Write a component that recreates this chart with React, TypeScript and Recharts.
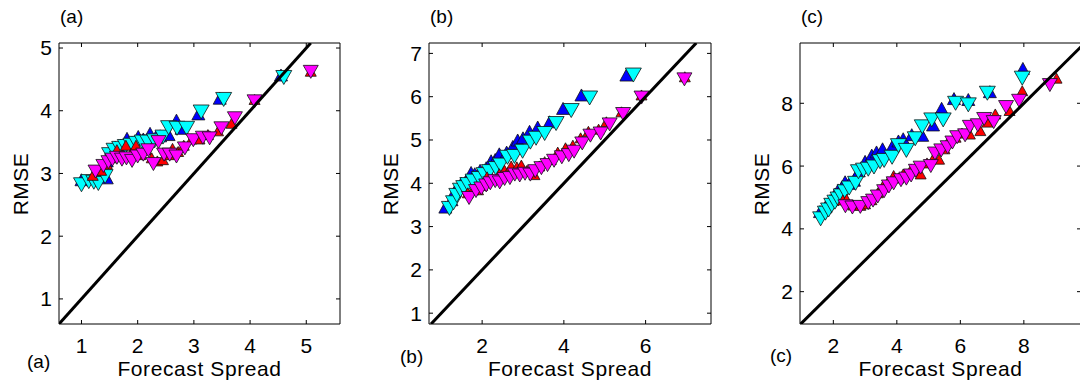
import { ScatterChart, Scatter, XAxis, YAxis, ReferenceLine } from "recharts";

// RMSE vs forecast spread, three experiments (a), (b), (c)
// each list is [spread, rmse]

const aBlue = [
  [1.0, 2.9], [1.35, 2.95], [1.45, 2.93], [1.45, 3.2], [1.53, 3.39], [1.6, 3.42], [1.7, 3.45],
  [1.81, 3.56], [1.9, 3.5], [2.01, 3.59], [2.1, 3.55], [2.22, 3.64], [2.32, 3.58], [2.4, 3.6],
  [2.55, 3.62], [2.69, 3.85], [2.78, 3.72], [3.08, 3.95], [3.46, 4.2], [4.55, 4.57],
];
const aCyan = [
  [1.0, 2.82], [1.13, 2.87], [1.22, 2.86], [1.3, 2.84], [1.42, 2.95], [1.5, 3.3], [1.58, 3.37],
  [1.68, 3.4], [1.78, 3.43], [1.88, 3.45], [1.98, 3.48], [2.08, 3.5], [2.18, 3.5], [2.3, 3.52],
  [2.45, 3.58], [2.55, 3.73], [2.7, 3.72], [2.87, 3.72], [3.13, 3.98], [3.53, 4.18], [4.6, 4.53],
];
const aRed = [
  [1.2, 2.97], [1.35, 3.05], [1.45, 3.15], [1.55, 3.25], [1.63, 3.38], [1.72, 3.3], [1.79, 3.45],
  [1.88, 3.32], [1.97, 3.45], [2.05, 3.3], [2.15, 3.38], [2.25, 3.25], [2.35, 3.2], [2.45, 3.22],
  [2.55, 3.3], [2.62, 3.4], [2.72, 3.35], [2.82, 3.45], [2.96, 3.55], [3.1, 3.55], [3.25, 3.62],
  [3.43, 3.68], [3.67, 3.8], [4.08, 4.18], [5.08, 4.63],
];
const aMagenta = [
  [1.25, 3.03], [1.39, 3.12], [1.48, 3.18], [1.55, 3.22], [1.63, 3.25], [1.72, 3.22], [1.8, 3.24],
  [1.9, 3.2], [2.0, 3.27], [2.1, 3.3], [2.19, 3.37], [2.28, 3.15], [2.37, 3.5], [2.47, 3.3],
  [2.57, 3.3], [2.69, 3.27], [2.84, 3.4], [2.99, 3.53], [3.16, 3.57], [3.28, 3.56], [3.49, 3.72],
  [3.73, 3.88], [4.08, 4.15], [5.08, 4.62],
];

const bBlue = [
  [1.1, 3.45], [1.25, 3.62], [1.32, 3.8], [1.42, 3.9], [1.49, 4.0], [1.6, 4.05], [1.73, 4.25],
  [1.82, 4.22], [1.95, 4.3], [2.1, 4.36], [2.22, 4.52], [2.32, 4.55], [2.42, 4.68], [2.6, 4.72],
  [2.75, 4.85], [2.87, 5.0], [3.0, 5.05], [3.16, 5.2], [3.36, 5.3], [3.65, 5.42], [3.98, 5.73],
  [4.43, 6.04], [5.53, 6.5],
];
const bCyan = [
  [1.2, 3.42], [1.3, 3.55], [1.38, 3.72], [1.47, 3.84], [1.55, 3.9], [1.65, 3.97], [1.78, 4.05],
  [1.93, 4.11], [2.05, 4.2], [2.18, 4.27], [2.34, 4.34], [2.45, 4.42], [2.62, 4.6], [2.79, 4.62],
  [2.99, 4.74], [3.18, 4.95], [3.32, 5.04], [3.53, 5.15], [3.81, 5.38], [4.18, 5.68], [4.63, 5.97],
  [5.7, 6.5],
];
const bRed = [
  [1.65, 3.78], [1.78, 3.85], [1.9, 3.85], [2.0, 3.95], [2.12, 4.15], [2.25, 4.1], [2.42, 4.22],
  [2.55, 4.3], [2.71, 4.4], [2.85, 4.38], [2.96, 4.42], [3.1, 4.3], [3.28, 4.2], [3.4, 4.4],
  [3.53, 4.5], [3.68, 4.55], [3.85, 4.72], [4.04, 4.82], [4.22, 4.88], [4.41, 5.05], [4.6, 5.2],
  [4.85, 5.25], [5.04, 5.42], [5.41, 5.65], [5.9, 6.04], [6.96, 6.46],
];
const bMagenta = [
  [1.68, 3.66], [1.85, 3.82], [1.98, 3.88], [2.1, 3.95], [2.2, 4.0], [2.32, 4.05], [2.43, 4.02],
  [2.55, 4.1], [2.68, 4.12], [2.8, 4.2], [2.92, 4.18], [3.05, 4.22], [3.18, 4.2], [3.3, 4.28],
  [3.45, 4.35], [3.6, 4.42], [3.76, 4.52], [3.95, 4.6], [4.12, 4.65], [4.25, 4.73], [4.45, 4.92],
  [4.65, 5.1], [4.9, 5.15], [5.12, 5.36], [5.45, 5.6], [5.9, 5.98], [6.95, 6.4],
];

const cBlue = [
  [1.58, 4.55], [1.75, 4.7], [1.9, 4.9], [2.05, 5.1], [2.15, 5.24], [2.25, 5.3], [2.37, 5.5],
  [2.5, 5.45], [2.65, 5.55], [2.8, 5.85], [3.0, 6.15], [3.21, 6.35], [3.36, 6.45], [3.55, 6.55],
  [3.85, 6.62], [4.05, 6.8], [4.2, 6.87], [4.47, 7.0], [4.8, 6.98], [5.14, 7.31], [5.41, 7.84],
  [5.8, 8.15], [6.25, 8.12], [6.93, 8.37], [7.97, 9.11],
];
const cCyan = [
  [1.6, 4.32], [1.75, 4.5], [1.85, 4.6], [1.95, 4.75], [2.05, 4.85], [2.15, 4.95], [2.25, 5.05],
  [2.37, 5.18], [2.5, 5.3], [2.7, 5.45], [2.79, 5.82], [2.95, 5.87], [3.1, 5.9], [3.28, 5.97],
  [3.47, 6.14], [3.6, 6.18], [3.85, 6.28], [4.05, 6.65], [4.3, 6.5], [4.58, 6.87], [4.8, 7.25],
  [5.1, 7.47], [5.46, 7.47], [5.85, 8.0], [6.25, 7.95], [6.85, 8.32], [7.95, 8.8],
];
const cRed = [
  [2.3, 4.92], [2.42, 4.94], [2.63, 4.76], [2.85, 4.75], [3.0, 4.8], [3.2, 4.93], [3.4, 5.15],
  [3.55, 5.35], [3.72, 5.5], [3.9, 5.7], [4.05, 5.62], [4.2, 5.75], [4.45, 5.9], [4.6, 5.85],
  [4.75, 5.75], [4.95, 6.1], [5.15, 6.25], [5.33, 6.22], [5.5, 6.55], [5.6, 6.76], [5.85, 6.92],
  [6.05, 7.05], [6.3, 7.02], [6.63, 7.13], [6.85, 7.4], [7.1, 7.66], [7.55, 7.77], [7.95, 8.4],
  [9.03, 8.8],
];
const cMagenta = [
  [2.38, 4.72], [2.6, 4.68], [2.85, 4.7], [3.1, 4.82], [3.25, 4.9], [3.4, 5.03], [3.6, 5.2],
  [3.75, 5.35], [3.9, 5.45], [4.13, 5.55], [4.3, 5.6], [4.45, 5.7], [4.6, 5.85], [4.75, 5.95],
  [5.07, 6.0], [5.2, 6.4], [5.4, 6.5], [5.6, 6.6], [5.75, 6.75], [5.9, 6.92], [6.15, 6.98],
  [6.3, 7.25], [6.55, 7.3], [6.75, 7.5], [7.05, 7.4], [7.44, 7.88], [7.85, 8.08], [8.82, 8.58],
];

const aXTicks = [1, 2, 3, 4, 5];
const aYTicks = [1, 2, 3, 4, 5];
const bXTicks = [2, 4, 6];
const bYTicks = [1, 2, 3, 4, 5, 6, 7];
const cXTicks = [2, 4, 6, 8];
const cYTicks = [2, 4, 6, 8];

const FONT = '"Liberation Sans", Arial, Helvetica, sans-serif';
const toPts = (arr: number[][]) => arr.map(([x, y]) => ({ x, y }));

type PanelCfg = {
  tag: string;
  chartLeft: number;
  plotLeft: number;
  plotW: number;
  xDomain: [number, number];
  yDomain: [number, number];
  xTicks: number[];
  yTicks: number[];
  blue: number[][];
  cyan: number[][];
  red: number[][];
  magenta: number[][];
};

const panels: PanelCfg[] = [
  { tag: "a", chartLeft: 0, plotLeft: 59, plotW: 281, xDomain: [0.6, 5.6], yDomain: [0.6, 5.08],
    xTicks: aXTicks, yTicks: aYTicks, blue: aBlue, cyan: aCyan, red: aRed, magenta: aMagenta },
  { tag: "b", chartLeft: 360, plotLeft: 429, plotW: 282, xDomain: [0.7, 7.6], yDomain: [0.75, 7.24],
    xTicks: bXTicks, yTicks: bYTicks, blue: bBlue, cyan: bCyan, red: bRed, magenta: bMagenta },
  { tag: "c", chartLeft: 720, plotLeft: 800, plotW: 281, xDomain: [0.95, 9.8], yDomain: [0.97, 9.92],
    xTicks: cXTicks, yTicks: cYTicks, blue: cBlue, cyan: cCyan, red: cRed, magenta: cMagenta },
];

const PLOT_TOP = 43;
const PLOT_H = 281;
const X_GAP = 14; // axis line to top of x labels
const Y_GAP = 7; // axis line to end of y labels
const TICK = 4;

function tri(fill: string, w: number, h: number, down: boolean) {
  return (p: any) => {
    const { cx, cy } = p;
    const pts = down
      ? `${cx - w / 2},${cy - h / 2} ${cx + w / 2},${cy - h / 2} ${cx},${cy + h / 2}`
      : `${cx - w / 2},${cy + h / 2} ${cx + w / 2},${cy + h / 2} ${cx},${cy - h / 2}`;
    return <polygon points={pts} fill={fill} stroke="#111" strokeWidth={0.8} />;
  };
}

// x tick: label plus inward marks on the bottom and top frame
function XTick(props: any) {
  const { x, y, payload } = props;
  const base = y - X_GAP;
  const top = base - PLOT_H;
  return (
    <g>
      <line x1={x} x2={x} y1={base} y2={base - TICK} stroke="#000" />
      <line x1={x} x2={x} y1={top} y2={top + TICK} stroke="#000" />
      <text x={x} y={y} dy="0.71em" textAnchor="middle" fontSize={21} fill="#000" fontFamily={FONT}>
        {payload.value}
      </text>
    </g>
  );
}

// y tick: label plus inward marks on the left and right frame
function makeYTick(plotW: number) {
  return (props: any) => {
    const { x, y, payload } = props;
    const left = x + Y_GAP;
    const right = left + plotW;
    return (
      <g>
        <line x1={left} x2={left + TICK} y1={y} y2={y} stroke="#000" />
        <line x1={right} x2={right - TICK} y1={y} y2={y} stroke="#000" />
        <text x={x} y={y} dy="0.355em" textAnchor="end" fontSize={21} fill="#000" fontFamily={FONT}>
          {payload.value}
        </text>
      </g>
    );
  };
}

function Panel({ p }: { p: PanelCfg }) {
  const yw = p.plotLeft - p.chartLeft;
  const W = yw + p.plotW + 10;
  const lo = Math.max(p.xDomain[0], p.yDomain[0]);
  const hi = Math.min(p.xDomain[1], p.yDomain[1]);
  const diag = [{ x: lo, y: lo }, { x: hi, y: hi }];
  return (
    <div style={{ position: "absolute", left: p.chartLeft, top: 0 }}>
      <ScatterChart width={W} height={387} margin={{ top: PLOT_TOP, right: 10, bottom: 0, left: 0 }}>
        <XAxis type="number" dataKey="x" domain={p.xDomain} ticks={p.xTicks} allowDataOverflow
          interval={0} height={387 - PLOT_TOP - PLOT_H} tickSize={0} tickLine={false}
          tickMargin={X_GAP} tick={<XTick />} stroke="#000" />
        <YAxis type="number" dataKey="y" domain={p.yDomain} ticks={p.yTicks} allowDataOverflow
          interval={0} width={yw} tickSize={0} tickLine={false} tickMargin={Y_GAP}
          tick={makeYTick(p.plotW)} stroke="#000" />
        <ReferenceLine y={p.yDomain[1]} stroke="#000" strokeWidth={1} />
        <ReferenceLine x={p.xDomain[1]} stroke="#000" strokeWidth={1} />
        <Scatter data={toPts(p.blue)} shape={tri("#0000ff", 13, 12, false)} isAnimationActive={false} />
        <Scatter data={toPts(p.cyan)} shape={tri("#00ffff", 16, 14, true)} isAnimationActive={false} />
        <Scatter data={toPts(p.red)} shape={tri("#ff0000", 11, 10, false)} isAnimationActive={false} />
        <Scatter data={toPts(p.magenta)} shape={tri("#ff00ff", 15, 13, true)} isAnimationActive={false} />
        <Scatter data={diag} line={{ stroke: "#000", strokeWidth: 3 }} shape={() => <g />}
          isAnimationActive={false} />
      </ScatterChart>
    </div>
  );
}

export default function App() {
  return (
    <div style={{ position: "absolute", left: 0, top: 0, width: 1080, height: 387, overflow: "hidden",
      background: "#fff", fontFamily: FONT }}>
      {panels.map((p) => <Panel key={p.tag} p={p} />)}
      <svg width={1080} height={387} style={{ position: "absolute", left: 0, top: 0, pointerEvents: "none" }}
        fontFamily={FONT} fill="#000">
        {panels.map((p, i) => {
          const cx = p.plotLeft + p.plotW / 2;
          const bottomTag = [[27, 368], [400, 363], [770, 362]][i];
          return (
            <g key={p.tag}>
              <text x={p.plotLeft + 1} y={23} fontSize={19}>({p.tag})</text>
              <text x={bottomTag[0]} y={bottomTag[1]} fontSize={19}>({p.tag})</text>
              <text x={cx} y={376} fontSize={21} textAnchor="middle" letterSpacing={0.6}>
                Forecast Spread
              </text>
              <text x={p.plotLeft - 31} y={184} fontSize={21} textAnchor="middle" letterSpacing={0.5}
                transform={`rotate(-90, ${p.plotLeft - 31}, 184)`}>
                RMSE
              </text>
            </g>
          );
        })}
      </svg>
    </div>
  );
}
